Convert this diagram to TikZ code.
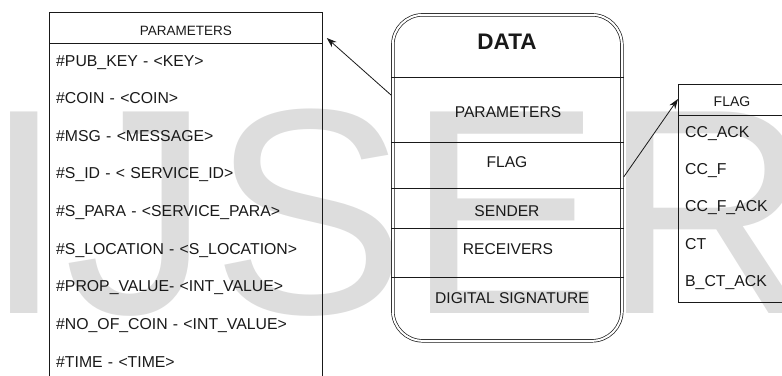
\documentclass[tikz,border=0pt]{standalone}
\usepackage{fontspec}
\setmainfont{Liberation Sans}
\usetikzlibrary{positioning,chains,arrows.meta}
\definecolor{wmark}{RGB}{221,221,221}
\definecolor{ink}{RGB}{25,25,25}

\begin{document}
\begin{tikzpicture}[x=1pt, y=1pt,
box/.style={draw=ink, line width=0.8pt, inner sep=0pt},
head/.style={inner sep=0pt, text=ink, font=\fontsize{13.5}{16}\selectfont},
row/.style={
	inner sep=0pt, text=ink, align=left,
	text height=13pt, text depth=3pt,
	font=\fontsize{15.8}{18}\selectfont
},
field/.style={inner sep=0pt, text=ink, font=\fontsize{15.6}{18}\selectfont},
split/.style={draw=ink, line width=0.9pt},
link/.style={draw=ink, line width=0.8pt, -{Stealth[length=10pt,width=7pt]}}
]
\useasboundingbox (0,0) rectangle (782,-375);
\clip (0,0) rectangle (782,-375);
\node[anchor=base west, inner sep=0pt, text=wmark,
	font=\fontsize{293}{300}\selectfont] (mark) at (-17,-313) {IJSER};

% parameters table
\node[box, minimum width=273pt, minimum height=400pt, anchor=north west] (params) at (49,-12) {};
\draw[split] ([yshift=-31pt]params.north west) -- ([yshift=-31pt]params.north east);
\node[head] (paramshead) at ([yshift=-19pt]params.north) {PARAMETERS};
\begin{scope}[start chain=plist going below, node distance=21.25pt,
	every node/.style={row, text width=255pt}]
\node[on chain, anchor=west] (pubkey) at (56,-61) {\#PUB\_KEY - <KEY>};
\node[on chain] (coin) {\#COIN - <COIN>};
\node[on chain] (msg) {\#MSG - <MESSAGE>};
\node[on chain] (sid) {\#S\_ID - < SERVICE\_ID>};
\node[on chain] (spara) {\#S\_PARA - <SERVICE\_PARA>};
\node[on chain] (sloc) {\#S\_LOCATION - <S\_LOCATION>};
\node[on chain] (prop) {\#PROP\_VALUE- <INT\_VALUE>};
\node[on chain] (nocoin) {\#NO\_OF\_COIN - <INT\_VALUE>};
\node[on chain] (time) {\#TIME - <TIME>};
\end{scope}

% data record
\node[box, double=white, double distance=2pt, line width=0.7pt, rounded corners=30pt,
	minimum width=229pt, minimum height=326pt, anchor=north west] (data) at (392.5,-14.5) {};
\draw[split] ([xshift=-1.5pt]data.west |- 0,-77) -- ([xshift=1.5pt]data.east |- 0,-77);
\draw[split] ([xshift=-1.5pt]data.west |- 0,-142) -- ([xshift=1.5pt]data.east |- 0,-142);
\draw[split] ([xshift=-1.5pt]data.west |- 0,-188) -- ([xshift=1.5pt]data.east |- 0,-188);
\draw[split] ([xshift=-1.5pt]data.west |- 0,-228) -- ([xshift=1.5pt]data.east |- 0,-228);
\draw[split] ([xshift=-1.5pt]data.west |- 0,-277) -- ([xshift=1.5pt]data.east |- 0,-277);
\node[field, font=\bfseries\fontsize{22.5}{26}\selectfont] (datatitle) at (507,-42) {DATA};
\node[field] (dparams) at (508,-112) {PARAMETERS};
\node[field] (dflag) at (507,-162) {FLAG};
\node[field] (dsender) at (507,-211) {SENDER};
\node[field] (drecv) at (508,-249) {RECEIVERS};
\node[field] (dsign) at (512,-298) {DIGITAL SIGNATURE};

% flag table
\node[box, minimum width=150pt, minimum height=218pt, anchor=north west] (flag) at (678,-84) {};
\draw[split] ([yshift=-31pt]flag.north west) -- ([yshift=-31pt]flag.north east);
\node[head, font=\fontsize{14}{16}\selectfont] (flaghead) at (732,-102) {FLAG};
\begin{scope}[start chain=flist going below, node distance=21pt,
	every node/.style={row, text width=90pt}]
\node[on chain, anchor=west] (ccack) at (685,-132) {CC\_ACK};
\node[on chain] (ccf) {CC\_F};
\node[on chain] (ccfack) {CC\_F\_ACK};
\node[on chain] (ct) {CT};
\node[on chain] (bctack) {B\_CT\_ACK};
\end{scope}

\draw[link] ([xshift=-1.5pt]data.west |- 0,-95) -- ([xshift=4pt,yshift=-26pt]params.north east);
\draw[link] ([xshift=1.5pt]data.east |- 0,-177) -- ([yshift=-15pt]flag.north west);
\end{tikzpicture}
\end{document}
